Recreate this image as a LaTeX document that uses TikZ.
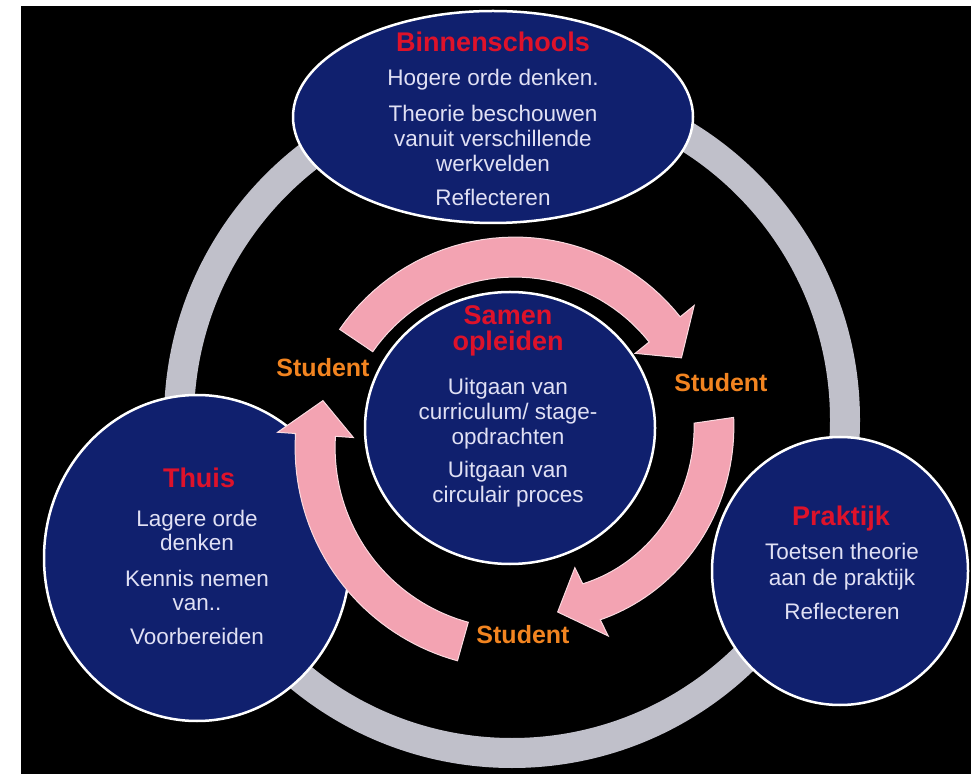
\documentclass[tikz,border=0pt]{standalone}
\usepackage{fontspec}
\setmainfont{Liberation Sans}
\usetikzlibrary{shapes.geometric}
\definecolor{navy}{RGB}{16,32,110}
\definecolor{ringgray}{RGB}{192,192,202}
\definecolor{pinkc}{RGB}{243,163,178}
\definecolor{bodytxt}{RGB}{224,224,244}
\definecolor{titlered}{RGB}{222,18,42}
\definecolor{studorange}{RGB}{242,132,32}
% #1 tail angle, #2 head-base angle, #3 tip angle, #4 radius at tail, #5 radius at head
\newcommand{\pinkarrow}[5]{%
  \fill[pinkc, draw=pinkc!40!white, line width=1pt]
    plot[domain=#1:#2, samples=40] (\x:{#4+(#5-#4)*(\x-(#1))/((#2)-(#1))+20})
    -- (#2:{#5+38}) -- (#3:{#5-2}) -- (#2:{#5-38})
    -- plot[domain=#2:#1, samples=40] (\x:{#4+(#5-#4)*(\x-(#1))/((#2)-(#1))-20})
    -- cycle;}
\begin{document}
\begin{tikzpicture}[x=1pt, y=1pt,
  bubble/.style={ellipse, draw=white, line width=2.5pt, fill=navy, inner sep=0pt},
  titletxt/.style={text=titlered, font=\bfseries\fontsize{27}{26}\selectfont, align=center, inner sep=0pt},
  bodytext/.style={text=bodytxt, font=\fontsize{22.5}{25}\selectfont, align=center, inner sep=0pt},
  studlabel/.style={text=studorange, font=\bfseries\fontsize{25}{25}\selectfont, inner sep=0pt}]
\useasboundingbox (0,0) rectangle (971,774);
\fill[white] (0,0) rectangle (971,774);
\fill[black] (21,0) rectangle (971,768);
% outer grey ring
\draw[ringgray, line width=30pt] (512,354) circle[radius=333pt];
% outer bubbles
\node[bubble, minimum width=400pt, minimum height=212pt] (binnen) at (493,657) {};
\node[bubble, minimum width=306pt, minimum height=326pt] (thuis) at (197,216) {};
\node[bubble, minimum width=256pt, minimum height=268pt] (praktijk) at (840,203) {};
% pink circular arrows
\begin{scope}[shift={(517,325)}]
  \pinkarrow{146}{39}{29}{194}{190}
  \pinkarrow{8.3}{-64}{-76}{199}{170}
  \pinkarrow{254.3}{176}{166}{200}{202}
\end{scope}
% centre bubble
\node[bubble, minimum width=290pt, minimum height=272pt] (samen) at (510,346) {};
% texts
\node[titletxt, anchor=base] (binnenT) at (493,722) {Binnenschools};
\node[bodytext, anchor=north] (binnenB) at (493,705) {Hogere orde denken.\\[11pt]Theorie beschouwen\\vanuit verschillende\\werkvelden\\[9pt]Reflecteren};
\node[titletxt, anchor=base] (thuisT) at (199,286) {Thuis};
\node[bodytext, anchor=north, font=\fontsize{22.5}{24}\selectfont] (thuisB) at (197,264) {Lagere orde\\denken\\[12pt]Kennis nemen\\van..\\[10pt]Voorbereiden};
\node[titletxt, anchor=base] (praktijkT) at (841,248) {Praktijk};
\node[bodytext, anchor=north, font=\fontsize{22.5}{26}\selectfont] (praktijkB) at (842,231) {Toetsen theorie\\aan de praktijk\\[8pt]Reflecteren};
\node[titletxt, anchor=north] (samenT) at (508,469) {Samen\\opleiden};
\node[bodytext, anchor=north] (samenB) at (508,396) {Uitgaan van\\curriculum/ stage-\\opdrachten\\[8pt]Uitgaan van\\circulair proces};
% student labels
\node[studlabel] (studL) at (323,406) {Student};
\node[studlabel] (studR) at (721,391) {Student};
\node[studlabel] (studB) at (523,139) {Student};
\end{tikzpicture}
\end{document}
